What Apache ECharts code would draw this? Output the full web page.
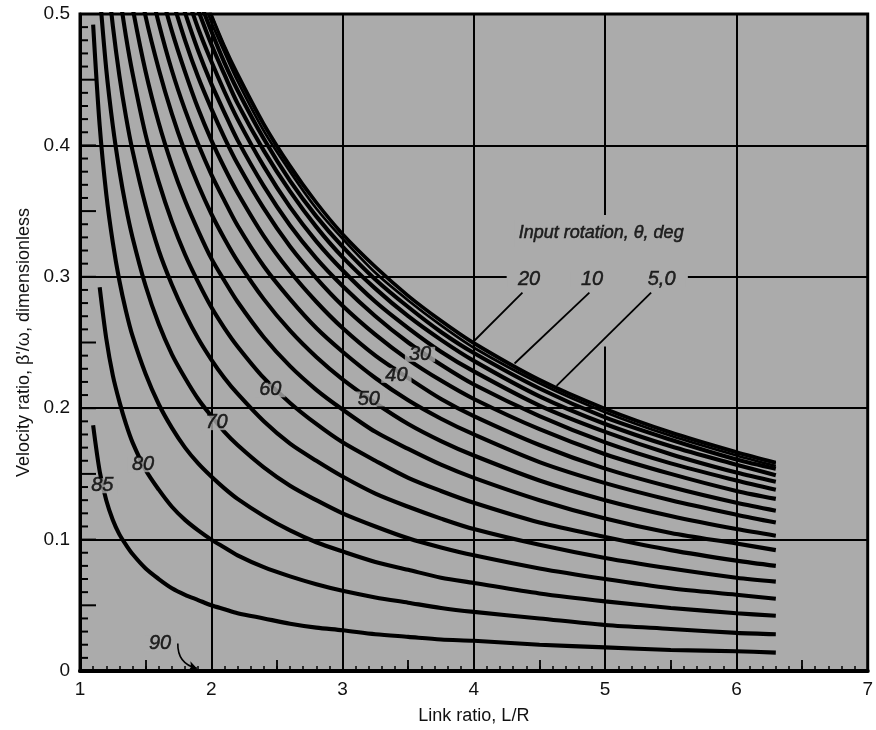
<!DOCTYPE html>
<html>
<head>
<meta charset="utf-8">
<script src="https://cdn.jsdelivr.net/npm/echarts@6/dist/echarts.min.js"></script>
<style>
html,body{margin:0;padding:0;background:#fff;}
#chart{width:876px;height:730px;}
</style>
</head>
<body>
<div id="chart"></div>
<script>
// Link ratio L/R sample points
const X = [1.1,1.15,1.2,1.25,1.3,1.35,1.4,1.5,1.6,1.7,1.8,1.9,2.0,2.1,2.2,2.4,2.6,2.8,3.0,3.25,3.5,3.75,4.0,4.5,5.0,5.5,6.0,6.3];
const _ = null;
// Velocity ratio per input rotation angle (deg)
const v0  = [_,_,_,_,_,_,_,_,_,_,_,.526,.500,.476,.455,.417,.385,.357,.333,.308,.286,.267,.250,.222,.200,.182,.167,.159];
const v5  = [_,_,_,_,_,_,_,_,_,_,_,.525,.499,.475,.453,.415,.383,.356,.332,.307,.285,.266,.249,.221,.199,.181,.166,.158];
const v10 = [_,_,_,_,_,_,_,_,_,_,_,.521,.494,.471,.449,.411,.380,.352,.329,.303,.282,.263,.246,.219,.197,.179,.164,.156];
const v15 = [_,_,_,_,_,_,_,_,_,_,_,.513,.487,.463,.442,.405,.373,.346,.323,.298,.277,.258,.242,.215,.193,.176,.161,.154];
const v20 = [_,_,_,_,_,_,_,_,_,_,_,.503,.477,.454,.432,.396,.365,.338,.315,.291,.270,.252,.236,.209,.188,.171,.157,.149];
const v25 = [_,_,_,_,_,_,_,_,_,_,.518,.489,.464,.441,.420,.384,.353,.327,.305,.281,.261,.243,.228,.202,.182,.165,.151,.144];
const v30 = [_,_,_,_,_,_,_,_,_,.533,.501,.472,.447,.425,.404,.369,.339,.314,.293,.270,.250,.233,.218,.194,.174,.158,.145,.138];
const v35 = [_,_,_,_,_,_,_,_,_,.512,.480,.452,.428,.406,.386,.352,.323,.299,.278,.256,.237,.221,.207,.184,.165,.150,.137,.131];
const v40 = [_,_,_,_,_,_,_,_,.523,.487,.456,.428,.404,.383,.364,.331,.304,.281,.261,.240,.223,.207,.194,.172,.154,.140,.128,.122];
const v45 = [_,_,_,_,_,_,_,.535,.493,.457,.427,.401,.378,.358,.339,.308,.283,.261,.243,.223,.206,.192,.180,.159,.143,.130,.119,.113];
const v50 = [_,_,_,_,_,_,.549,.498,.458,.424,.395,.370,.348,.329,.312,.283,.259,.239,.222,.204,.188,.175,.164,.145,.130,.118,.108,.103];
const v55 = [_,_,_,_,_,.535,.505,.456,.417,.385,.358,.335,.314,.297,.281,.254,.232,.214,.199,.182,.169,.157,.147,.130,.116,.105,.097,.092];
const v60 = [_,_,_,_,.516,.483,.455,.408,.372,.342,.317,.296,.277,.261,.247,.223,.204,.188,.174,.160,.147,.137,.128,.113,.102,.092,.084,.080];
const v65 = [_,_,.537,.491,.453,.422,.396,.354,.320,.294,.272,.253,.237,.223,.211,.190,.173,.160,.148,.135,.125,.116,.108,.096,.086,.078,.071,.068];
const v70 = [_,.516,.458,.415,.381,.353,.330,.293,.264,.241,.223,.207,.194,.182,.172,.155,.141,.130,.120,.110,.101,.094,.088,.078,.070,.063,.058,.055];
const v75 = [.492,.415,.363,.326,.297,.274,.255,.226,.203,.185,.170,.158,.148,.139,.131,.118,.107,.098,.091,.083,.077,.071,.067,.059,.053,.048,.044,.042];
const v80 = [_,.292,.253,.225,.205,.188,.174,.153,.138,.125,.115,.107,.100,.094,.088,.079,.072,.066,.061,.056,.052,.048,.045,.040,.035,.032,.029,.028];
const v85 = [.187,.152,.130,.115,.104,.096,.089,.078,.070,.063,.058,.054,.050,.047,.044,.040,.036,.033,.031,.028,.026,.024,.023,.020,.018,.016,.015,.014];
const THETA = [0,5,10,15,20,25,30,35,40,45,50,55,60,65,70,75,80,85];
const CURVES = [v0,v5,v10,v15,v20,v25,v30,v35,v40,v45,v50,v55,v60,v65,v70,v75,v80,v85];

// Curve annotations
const labelText = ['Input rotation, θ, deg','20','10','5,0','30','40','50','60','70','80','85','90'];
const labelAt = [[4.97,0.333],[4.42,0.298],[4.90,0.298],[5.43,0.298],[3.59,0.241],[3.41,0.225],[3.20,0.207],[2.45,0.214],[2.04,0.189],[1.48,0.157],[1.17,0.141],[1.61,0.021]];
const leaders = [[[4.37,0.288],[3.99,0.250]],[[4.88,0.288],[4.31,0.234]],[[5.35,0.288],[4.63,0.217]]];
const arrow90 = [[1.745,0.021],[1.89,0.002]];

// Fine y-axis ruler ticks (hundredths)
const yFineTicks = Array.from({ length: 51 }, (_, i) => i);

const BG = '#ababab';
const chart = echarts.init(document.getElementById('chart'));

const curveSeries = CURVES.map((vals, k) => ({
  type: 'line',
  name: String(THETA[k]),
  xAxisIndex: 0, yAxisIndex: 0,
  data: X.map((x, i) => [x, vals[i]]).filter(p => p[1] !== null),
  smooth: 0.3,
  showSymbol: false,
  symbol: 'none',
  clip: true,
  lineStyle: { color: '#000', width: THETA[k] <= 10 ? 2.7 : 4.1 },
  z: 3,
  silent: true
}));

const labelSeries = {
  type: 'scatter',
  xAxisIndex: 0, yAxisIndex: 0,
  symbolSize: 0,
  z: 6,
  silent: true,
  data: labelText.map((t, i) => ({
    value: [labelAt[i][0], labelAt[i][1]],
    label: {
      show: true,
      position: 'inside',
      formatter: t,
      fontFamily: 'Liberation Sans',
      fontStyle: 'italic',
      fontSize: i === 0 ? 18 : 20,
      color: '#000',
      textBorderColor: '#000',
      textBorderWidth: 0.5,
      backgroundColor: BG,
      padding: i === 0 ? [2, 4] : (i <= 3 ? [0, 10] : [0, 4]),
      lineHeight: i === 0 ? 22 : 15
    }
  })),
  markArea: {
    silent: true,
    itemStyle: { color: BG },
    data: [
      [{ coord: [4.25, 0.296] }, { coord: [5.63, 0.304] }],
      [{ coord: [4.985, 0.247] }, { coord: [5.015, 0.347] }]
    ]
  }
};

const leaderSeries = {
  type: 'lines',
  coordinateSystem: 'cartesian2d',
  xAxisIndex: 0, yAxisIndex: 0,
  z: 7,
  silent: true,
  symbol: 'none',
  lineStyle: { color: '#000', width: 1.8, opacity: 1 },
  data: leaders.map(c => ({ coords: c }))
};
const arrowSeries = {
  type: 'lines',
  coordinateSystem: 'cartesian2d',
  xAxisIndex: 0, yAxisIndex: 0,
  z: 7,
  silent: true,
  symbol: ['none', 'arrow'],
  symbolSize: 8,
  lineStyle: { color: '#000', width: 1.6, opacity: 1, curveness: -0.4 },
  data: [{ coords: arrow90 }]
};

// y-axis ruler ticks drawn through the axis scale
const yTickSeries = {
  type: 'custom',
  xAxisIndex: 0, yAxisIndex: 0,
  z: 9,
  silent: true,
  clip: false,
  data: yFineTicks.map(i => [1, i / 100, i % 5 === 0 ? 16 : 8]),
  renderItem: (params, api) => {
    const p = api.coord([api.value(0), api.value(1)]);
    const len = api.value(2);
    return {
      type: 'line',
      shape: { x1: p[0], y1: p[1], x2: p[0] + len, y2: p[1] },
      style: { stroke: '#000', lineWidth: 2 }
    };
  }
};

const axisFont = { fontFamily: 'Liberation Sans', fontSize: 19, color: '#111' };
const tickOnly = (extra) => Object.assign({
  type: 'value',
  axisLine: { show: false, onZero: false },
  axisLabel: { show: false },
  splitLine: { show: false }
}, extra);

chart.setOption({
  animation: false,
  backgroundColor: '#fff',
  grid: {
    left: 80, right: 7, top: 14, bottom: 57,
    show: true, backgroundColor: BG, borderColor: '#000', borderWidth: 3
  },
  xAxis: [{
    type: 'value', min: 1, max: 7, interval: 1,
    name: 'Link ratio, L/R', nameLocation: 'middle', nameGap: 36,
    nameTextStyle: { fontFamily: 'Liberation Sans', fontSize: 18, color: '#111' },
    axisLine: { show: true, onZero: false, lineStyle: { color: '#000', width: 4 } },
    axisTick: { show: false },
    splitLine: { show: true, lineStyle: { color: '#000', width: 2 } },
    axisLabel: Object.assign({ margin: 9 }, axisFont)
  },
  tickOnly({ min: 1, max: 7, interval: 0.5, position: 'bottom',
    axisTick: { show: true, inside: true, length: 11, lineStyle: { color: '#000', width: 1.8 } } }),
  tickOnly({ min: 1, max: 7, interval: 0.1, position: 'bottom',
    axisTick: { show: true, inside: true, length: 5, lineStyle: { color: '#000', width: 1.5 } } })
  ],
  yAxis: [{
    type: 'value', min: 0, max: 0.5, interval: 0.1,
    name: "Velocity ratio, β'/ω, dimensionless", nameLocation: 'middle', nameGap: 35,
    nameTextStyle: { fontFamily: 'Liberation Sans', fontSize: 18, color: '#111' },
    axisLine: { show: true, onZero: false, lineStyle: { color: '#000', width: 3 } },
    axisTick: { show: false },
    splitLine: { show: true, lineStyle: { color: '#000', width: 2 } },
    axisLabel: Object.assign({ margin: 10, formatter: v => v === 0 ? '0' : v.toFixed(1) }, axisFont)
  }],
  series: curveSeries.concat([labelSeries, leaderSeries, arrowSeries, yTickSeries])
});
</script>
</body>
</html>
